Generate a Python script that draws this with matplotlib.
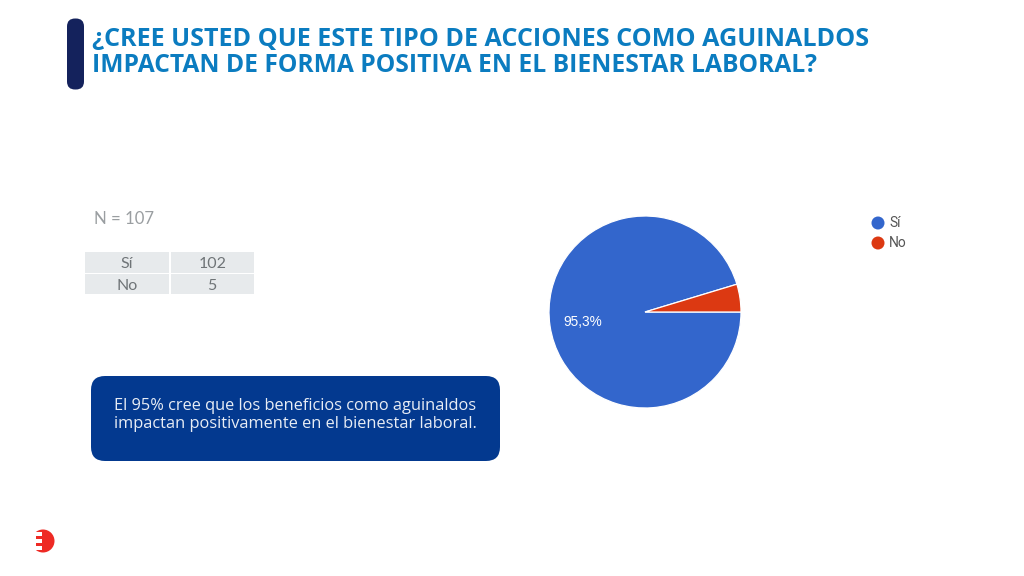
import matplotlib
matplotlib.use("Agg")
import matplotlib.pyplot as plt
from matplotlib.patches import FancyBboxPatch, Rectangle, Circle

title_lines = ["¿CREE USTED QUE ESTE TIPO DE ACCIONES COMO AGUINALDOS",
               "IMPACTAN DE FORMA POSITIVA EN EL BIENESTAR LABORAL?"]
categories = ["Sí", "No"]
counts = [102, 5]
pct_label = "95,3%"
n_label = "N = 107"
callout = ["El 95% cree que los beneficios como aguinaldos",
           "impactan positivamente en el bienestar laboral."]
colors = ["#3366cc", "#dc3912"]

W, H = 1024, 576
fig = plt.figure(figsize=(W/100, H/100), dpi=100, facecolor="white")
bg = fig.add_axes([0, 0, 1, 1])
bg.set_xlim(0, W); bg.set_ylim(H, 0); bg.axis("off")
bg.set_zorder(2)

# title bar and title
bg.add_patch(FancyBboxPatch((67, 18.5), 17, 71, boxstyle="round,pad=0,rounding_size=8",
                            fc="#14225c", ec="none"))
for y, line, fs in zip((39, 65), title_lines, (18.13, 17.75)):
    bg.text(92, y, line, fontsize=fs, fontweight="bold", color="#0b7cc0",
            family="Open Sans", va="center", ha="left")

# N + table
bg.text(94, 218.5, n_label, fontsize=12.1, color="#9a9ea1", family="Lato", va="center")
col_x = [(85, 84), (170.5, 83.5)]
row_y = [(252, 20.5), (274, 20)]
for i, cat in enumerate(categories):
    ry, rh = row_y[i]
    for (cx, cw), txt in zip(col_x, (cat, str(counts[i]))):
        bg.add_patch(Rectangle((cx, ry), cw, rh, fc="#e7eaec", ec="none"))
        bg.text(cx + cw/2, ry + rh/2 + 2, txt, fontsize=11.5, color="#6f7477",
                family="Lato", ha="center", va="center")

# callout
bg.add_patch(FancyBboxPatch((91, 376), 409, 85, boxstyle="round,pad=0,rounding_size=14",
                            fc="#03398f", ec="none"))
for y, line in zip((405.5, 424.5), callout):
    bg.text(295, y, line, fontsize=11.8, color="#e8edf5", family="Open Sans",
            ha="center", va="center")

# logo
bg.add_patch(Circle((43, 541), 11.5, fc="#ee2a24", ec="none"))
bg.add_patch(Rectangle((30, 532), 6, 18, fc="white", ec="none"))
for y in (534, 541, 548):
    bg.add_patch(Rectangle((31, y - 2), 11, 4, fc="white", ec="none"))

# pie (center 645,312, r 96)
R = 96
ax = fig.add_axes([(645-R-2)/W, 1-(312+R+2)/H, (2*R+4)/W, (2*R+4)/H])
ax.pie(counts, colors=colors, startangle=360*counts[1]/sum(counts), radius=1,
       wedgeprops=dict(edgecolor="white", linewidth=0.9))
ax.set_xlim(-(R+2)/R, (R+2)/R); ax.set_ylim(-(R+2)/R, (R+2)/R)
bg.text(563, 322, pct_label, fontsize=9.8, color="white", family="Liberation Sans", va="center")

# legend
for y, c, cat in zip((223, 243), colors, categories):
    bg.add_patch(Circle((878, y), 6.5, fc=c, ec="none"))
    bg.text(889, y, cat, fontsize=10, color="#555555", family="Roboto", va="center")

fig.savefig("out.png", dpi=100)
